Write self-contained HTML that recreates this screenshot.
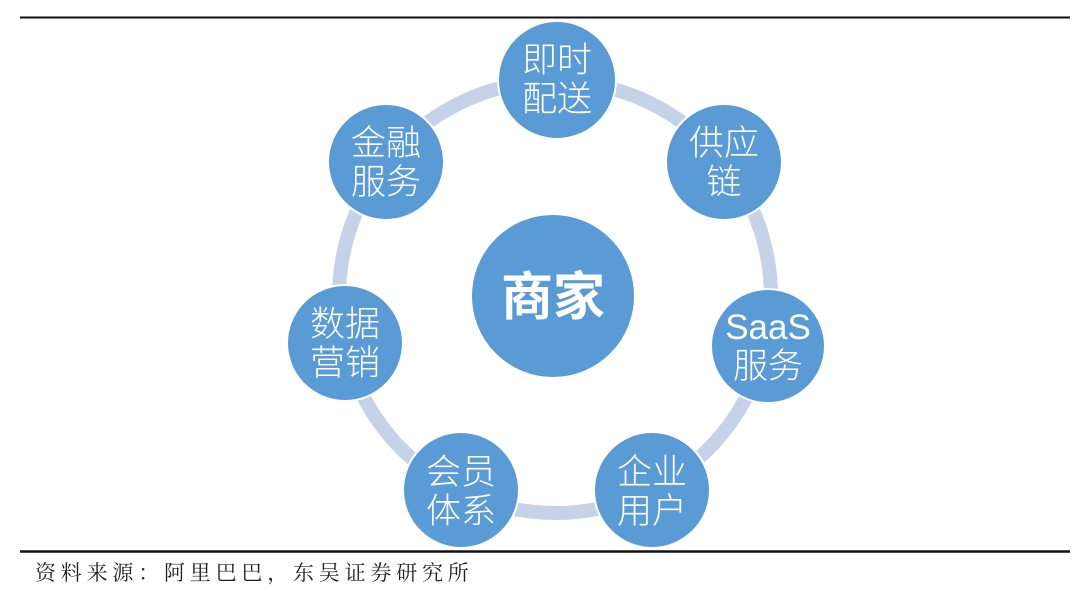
<!DOCTYPE html>
<html><head><meta charset="utf-8"><style>
html,body{margin:0;padding:0;background:#fff;}
body{width:1080px;height:600px;position:relative;overflow:hidden;}
.cap{position:absolute;left:35px;top:557px;font-family:"Liberation Serif","Noto Serif CJK SC",serif;font-size:21px;letter-spacing:4.8px;color:#222;}
</style></head><body>
<svg width="1080" height="600" style="position:absolute;left:0;top:0">
<line x1="20" y1="17.5" x2="1070" y2="17.5" stroke="#111" stroke-width="2"/>
<line x1="20" y1="551.5" x2="1070" y2="551.5" stroke="#111" stroke-width="2.5"/>
<circle cx="555" cy="297" r="216" fill="none" stroke="#c5d2e8" stroke-width="14"/>
<g fill="#5b9bd5" stroke="#fff" stroke-width="2">
<circle cx="553" cy="296" r="82"/>
<circle cx="557" cy="80" r="59"/>
<circle cx="724" cy="162" r="58"/>
<circle cx="386" cy="162" r="58"/>
<circle cx="768" cy="346" r="57"/>
<circle cx="345" cy="343" r="58"/>
<circle cx="652" cy="490" r="58"/>
<circle cx="461" cy="490" r="58"/>
</g>
<g fill="#fff" font-family="Liberation Sans, Noto Sans CJK SC, sans-serif" font-size="35" text-anchor="middle" font-weight="300">
<text x="557" y="72">即时</text><text x="557" y="111">配送</text>
<text x="724" y="155">供应</text><text x="724" y="194">链</text>
<text x="386" y="155">金融</text><text x="386" y="194">服务</text>
<text x="768" y="339">SaaS</text><text x="768" y="378">服务</text>
<text x="345" y="336">数据</text><text x="345" y="375">营销</text>
<text x="652" y="484">企业</text><text x="652" y="523">用户</text>
<text x="461" y="484">会员</text><text x="461" y="523">体系</text>
<text x="553" y="315" font-size="52" font-weight="bold">商家</text>
</g>
</svg>
<div class="cap">资料来源：阿里巴巴，东吴证券研究所</div>
</body></html>
